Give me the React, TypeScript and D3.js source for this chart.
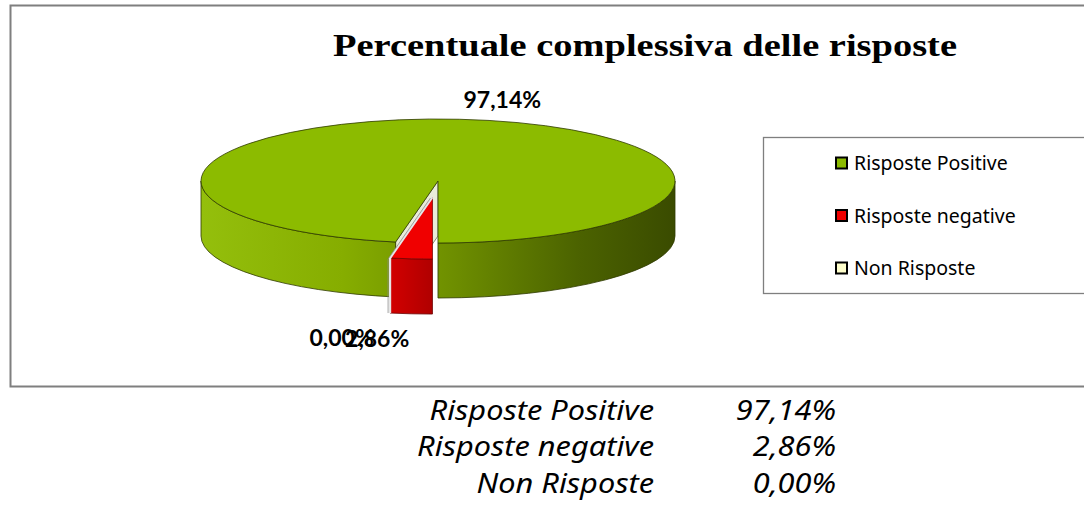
import React from 'react';
import * as d3 from 'd3';

const categories = ['Risposte Positive', 'Risposte negative', 'Non Risposte'];
const values = [97.14, 2.86, 0.0];
const topColors = ['#8cbb00', '#f00000', '#ffffcc'];
const legendColors = ['#8cbb00', '#f00000', '#ffffcc'];
const explode = [0, 0.26, 0];
const title = 'Percentuale complessiva delle risposte';

const W = 1084;
const H = 507;

const it = d3.formatLocale({ decimal: ',', thousands: '.', grouping: [3], currency: ['€', ''] });
const pct = (v: number) => it.format('.2f')(v) + '%';

export default function App() {
  const ref = React.useRef<SVGSVGElement>(null);

  React.useEffect(() => {
    const svg = d3.select(ref.current);
    svg.selectAll('*').remove();

    const cx = 438, cy = 181, rx = 237, ry = 62, depth = 55;
    const rot = (190.3 * Math.PI) / 180;

    const defs = svg.append('defs');
    const gs = defs.append('linearGradient').attr('id', 'gside')
      .attr('gradientUnits', 'userSpaceOnUse')
      .attr('x1', cx - rx).attr('x2', cx + rx).attr('y1', 0).attr('y2', 0);
    [[0, '#94bf0c'], [0.3, '#86ad00'], [0.52, '#6f9000'], [0.8, '#4b6200'], [1, '#3a4b00']]
      .forEach(([o, c]) => gs.append('stop').attr('offset', o as number).attr('stop-color', c as string));
    const rs = defs.append('linearGradient').attr('id', 'rside')
      .attr('x1', 0).attr('x2', 1).attr('y1', 0).attr('y2', 0);
    rs.append('stop').attr('offset', 0).attr('stop-color', '#d20000');
    rs.append('stop').attr('offset', 1).attr('stop-color', '#b00000');
    const sideFill = ['url(#gside)', 'url(#rside)', '#e0e0b0'];

    // chart frame
    svg.append('rect')
      .attr('x', 10.5).attr('y', 5.5).attr('width', 1080).attr('height', 381)
      .attr('fill', '#fff').attr('stroke', '#7f7f7f').attr('stroke-width', 2);

    svg.append('text')
      .attr('x', 645).attr('y', 56)
      .attr('text-anchor', 'middle')
      .style('font-family', '"Liberation Serif", serif')
      .style('font-weight', 'bold')
      .style('font-size', '31px')
      .attr('textLength', 624)
      .attr('lengthAdjust', 'spacingAndGlyphs')
      .text(title);

    const arcs = d3.pie<number>().sort(null)
      .startAngle(rot).endAngle(rot + 2 * Math.PI)(values);

    const offset = (i: number) => {
      const a = (arcs[i].startAngle + arcs[i].endAngle) / 2;
      return [rx * explode[i] * Math.sin(a), -ry * explode[i] * Math.cos(a)];
    };
    const pt = (a: number, i: number, dy = 0) => {
      const [ox, oy] = offset(i);
      return [cx + ox + rx * Math.sin(a), cy + oy - ry * Math.cos(a) + dy];
    };
    const ctr = (i: number, dy = 0) => {
      const [ox, oy] = offset(i);
      return [cx + ox, cy + oy + dy];
    };

    const drawSlice = (i: number) => {
      const { startAngle: a0, endAngle: a1 } = arcs[i];
      if (a1 - a0 <= 0) return;
      const g = svg.append('g');

      // start radial face (visible for the big slice)
      if (i === 0) {
        const c0 = ctr(i), c1 = ctr(i, depth), p0 = pt(a0, i), p1 = pt(a0, i, depth);
        g.append('path')
          .attr('d', `M${c0}L${p0}L${p1}L${c1}Z`)
          .attr('fill', '#e9ecd9').attr('stroke', '#8a8f7a').attr('stroke-width', 1);
      }

      // outer side walls, front half only
      for (let k = 0; k < 2; k++) {
        const lo = Math.max(a0, Math.PI / 2 + 2 * Math.PI * k);
        const hi = Math.min(a1, (3 * Math.PI) / 2 + 2 * Math.PI * k);
        if (hi <= lo) continue;
        const s = pt(lo, i), e = pt(hi, i), s2 = pt(lo, i, depth), e2 = pt(hi, i, depth);
        g.append('path')
          .attr('d', `M${s}A${rx},${ry} 0 0 1 ${e}L${e2}A${rx},${ry} 0 0 0 ${s2}Z`)
          .attr('fill', sideFill[i])
          .attr('stroke', i === 0 ? '#2e3a00' : '#6a0000').attr('stroke-width', 0.8);
      }

      const c = ctr(i), p0 = pt(a0, i), p1 = pt(a1, i);
      const large = a1 - a0 > Math.PI ? 1 : 0;
      g.append('path')
        .attr('d', `M${c}L${p0}A${rx},${ry} 0 ${large} 1 ${p1}Z`)
        .attr('fill', topColors[i])
        .attr('stroke', i === 0 ? '#2e3a00' : '#7a0000').attr('stroke-width', 0.8);

      if (i === 1) {
        // light rim on the exploded slice's left edge
        const e1 = pt(a1, i), e2 = pt(a1, i, depth);
        g.append('path')
          .attr('d', `M${ctr(i)}L${e1}L${e2}`)
          .attr('fill', 'none').attr('stroke', '#e6e6e6').attr('stroke-width', 2.2);
        g.append('path')
          .attr('d', `M${[ctr(i)[0] - 2, ctr(i)[1] + 1]}L${[e1[0] - 2, e1[1] + 1]}L${[e2[0] - 2, e2[1]]}`)
          .attr('fill', 'none').attr('stroke', '#8a8a8a').attr('stroke-width', 0.8);
      }
    };
    drawSlice(0);
    drawSlice(2);
    drawSlice(1);

    // data labels (the two small ones overlap, as in the source chart)
    const labelPos = [
      [43, -19],
      [-34, 80],
      [-54, 96],
    ];
    [2, 1, 0].forEach((i) => {
      const a = (arcs[i].startAngle + arcs[i].endAngle) / 2;
      const p = pt(a, i);
      svg.append('text')
        .attr('x', p[0] + labelPos[i][0])
        .attr('y', p[1] + labelPos[i][1])
        .attr('text-anchor', 'middle')
        .attr('dy', '0.35em')
        .style('font-family', 'Lato, "Liberation Sans", sans-serif')
        .style('font-weight', 'bold').style('font-size', '23px')
        .text(pct(values[i]));
    });

    // legend
    svg.append('rect')
      .attr('x', 763.5).attr('y', 137.5).attr('width', 330).attr('height', 156)
      .attr('fill', '#fff').attr('stroke', '#7f7f7f').attr('stroke-width', 1.3);
    const ly = d3.scalePoint<string>().domain(categories).range([163, 268]);
    categories.forEach((c, i) => {
      svg.append('rect')
        .attr('x', 836).attr('y', ly(c)! - 5.5).attr('width', 11).attr('height', 11)
        .attr('fill', legendColors[i]).attr('stroke', '#000').attr('stroke-width', 2);
      svg.append('text')
        .attr('x', 854).attr('y', ly(c)!).attr('dy', '0.36em')
        .style('font-family', '"Noto Sans", "Open Sans", sans-serif')
        .style('font-size', '19.5px')
        .text(c);
    });

    // table below
    const ty = d3.scalePoint<string>().domain(categories).range([410, 483]);
    categories.forEach((c, i) => {
      const t = (x: number, s: string) => svg.append('text')
        .attr('transform', `translate(${x},${ty(c)}) scale(1.16,1)`)
        .attr('dy', '0.36em')
        .attr('text-anchor', 'end')
        .style('font-family', '"Noto Sans", "Open Sans", sans-serif')
        .style('font-style', 'italic')
        .style('font-size', '26.5px')
        .text(s);
      t(654, c);
      t(836, pct(values[i]));
    });
  }, []);

  return (
    <svg ref={ref} width={W} height={H}
      style={{ position: 'absolute', left: 0, top: 0, background: '#fff' }} />
  );
}
